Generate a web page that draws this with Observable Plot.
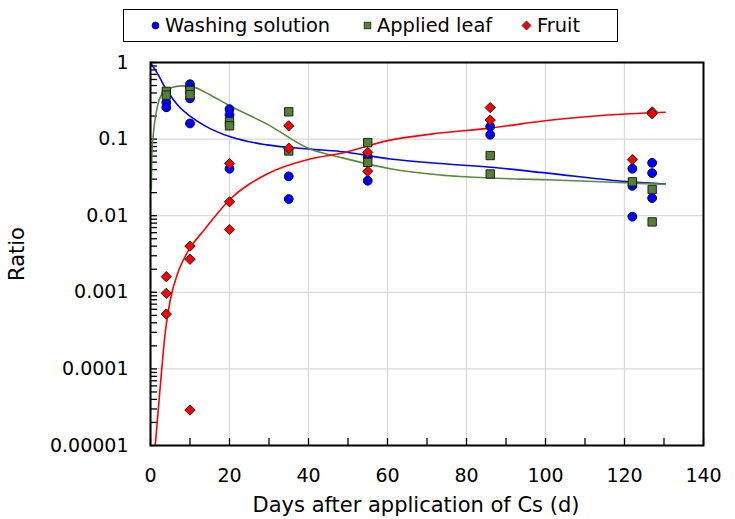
<!DOCTYPE html>
<html>
<head>
<meta charset="utf-8">
<script src="https://cdn.jsdelivr.net/npm/d3@7"></script>
<script src="https://cdn.jsdelivr.net/npm/@observablehq/plot@0.6"></script>
<style>
  html, body { margin: 0; padding: 0; background: #fff; }
  #wrap { position: relative; width: 735px; height: 519px; font-family: "DejaVu Sans", Verdana, sans-serif; }
  #legend { position: absolute; left: 123px; top: 9px; width: 493px; height: 31px; border: 1px solid #000; background: #fff; box-sizing: content-box; }
  .item { position: absolute; top: 0; height: 31px; display: flex; align-items: center; font-size: 19.4px; color: #000; white-space: nowrap; }
  .item svg { margin-right: 5px; }
</style>
</head>
<body>
<div id="wrap">
  <div id="chart"></div>
  <div id="legend"></div>
</div>
<script>
// ---- data ----
const seriesNames = ["Washing solution", "Applied leaf", "Fruit"];

const washDays  = [4, 4, 10, 10, 10, 10, 20, 20, 20, 35, 35, 55, 55, 86, 86, 122, 122, 122, 127, 127, 127];
const washRatio = [0.30, 0.26, 0.52, 0.47, 0.34, 0.16, 0.246, 0.207, 0.041, 0.0326, 0.0165, 0.058, 0.0286, 0.146, 0.114, 0.041, 0.0245, 0.0097, 0.049, 0.036, 0.017];

const leafDays  = [4, 4, 10, 10, 20, 20, 35, 35, 55, 55, 86, 86, 122, 127, 127];
const leafRatio = [0.42, 0.375, 0.43, 0.38, 0.168, 0.149, 0.227, 0.070, 0.090, 0.0496, 0.061, 0.035, 0.0277, 0.022, 0.0083];

const fruitDays  = [4, 4, 4, 10, 10, 10, 20, 20, 20, 35, 35, 55, 55, 86, 86, 122, 127, 127];
const fruitRatio = [0.0016, 0.00097, 0.00052, 0.004, 0.0027, 0.000029, 0.048, 0.0152, 0.0066, 0.149, 0.076, 0.067, 0.038, 0.258, 0.177, 0.054, 0.227, 0.214];

// fitted curves
const washFitDays  = [0, 0.8, 1.9, 3.7, 5.4, 7.1, 10, 13.8, 20.2, 29.5, 40.4, 48, 60.7, 73.3, 86, 100.4, 121.4, 130.3];
const washFitRatio = [1.0, 0.86, 0.70, 0.47, 0.35, 0.27, 0.20, 0.149, 0.107, 0.084, 0.074, 0.069, 0.055, 0.048, 0.043, 0.036, 0.0277, 0.0259];

const leafFitDays  = [0.2, 0.35, 0.76, 1.6, 2.9, 5.4, 7.9, 11.3, 13.8, 20.2, 29.5, 40.4, 48, 60.7, 73.3, 86, 100.4, 121.4, 130.3];
const leafFitRatio = [0.022, 0.061, 0.122, 0.246, 0.386, 0.47, 0.495, 0.47, 0.41, 0.27, 0.157, 0.074, 0.058, 0.041, 0.034, 0.031, 0.0295, 0.0267, 0.0257];

const fruitFitDays  = [1.2, 2.03, 2.9, 3.7, 5.0, 7.1, 9.6, 13.8, 20.2, 29.5, 40.4, 48, 60.7, 73.3, 86, 100.4, 121.4, 130.3];
const fruitFitRatio = [0.00001, 0.000032, 0.000107, 0.00029, 0.00079, 0.0019, 0.0035, 0.0067, 0.0165, 0.035, 0.055, 0.065, 0.097, 0.12, 0.139, 0.175, 0.214, 0.224];

const xTicks = [0, 20, 40, 60, 80, 100, 120, 140];
const xMinorTicks = [10, 30, 50, 70, 90, 110, 130];
const yTicks = [1, 0.1, 0.01, 0.001, 0.0001, 0.00001];
const yTickLabels = ["1", "0.1", "0.01", "0.001", "0.0001", "0.00001"];
const yMinorTicks = [];
for (const dec of [0.00001, 0.0001, 0.001, 0.01, 0.1]) for (const m of [2,3,4,5,6,7,8,9]) yMinorTicks.push(+(dec * m).toPrecision(3));

const xLabel = "Days after application of Cs (d)";
const yLabel = "Ratio";

// ---- build tables ----
const rows = (xs, ys) => xs.map((x, i) => ({x, y: ys[i]}));
const wash = rows(washDays, washRatio);
const leaf = rows(leafDays, leafRatio);
const fruit = rows(fruitDays, fruitRatio);
const washFit = rows(washFitDays, washFitRatio);
const leafFit = rows(leafFitDays, leafFitRatio);
const fruitFit = rows(fruitFitDays, fruitFitRatio);

const colors = {wash: "#0000ff", leaf: "#548235", fruit: "#ff0000"};
const lineColors = {wash: "#0000ff", leaf: "#5a8a3a", fruit: "#ff0000"};

const diamond = {
  draw(context, size) {
    const s = Math.sqrt(size / 2);
    context.moveTo(0, -s); context.lineTo(s, 0); context.lineTo(0, s); context.lineTo(-s, 0); context.closePath();
  }
};

const W = 735, H = 519, mL = 150, mR = 32, mT = 62, mB = 74;
const plotW = W - mL - mR, plotH = H - mT - mB;

const chart = Plot.plot({
  width: W, height: H,
  marginLeft: mL, marginRight: mR, marginTop: mT, marginBottom: mB,
  x: {domain: [0, 140]},
  y: {type: "log", domain: [0.00001, 1]},
  style: {fontFamily: "DejaVu Sans, Verdana, sans-serif", fontSize: "19px", color: "#000", background: "#fff"},
  marks: [
    Plot.gridX(xTicks, {stroke: "#d9d9d9", strokeOpacity: 1, strokeWidth: 1.3}),
    Plot.gridY(yTicks, {stroke: "#d9d9d9", strokeOpacity: 1, strokeWidth: 1.3}),
    Plot.tickY(yTicks.concat(yMinorTicks), {y: d => d, stroke: "#000", strokeWidth: 1.3, insetRight: plotW - 7}),
    Plot.tickX(xTicks.concat(xMinorTicks), {x: d => d, stroke: "#000", strokeWidth: 1.3, insetTop: plotH - 7}),
    Plot.axisX(xTicks, {tickSize: 0, tickPadding: 23, tickFormat: d => String(d), label: xLabel, labelAnchor: "center", labelOffset: 66, labelArrow: "none"}),
    Plot.axisY(yTicks, {tickSize: 0, tickPadding: 22, tickFormat: d => yTickLabels[yTicks.indexOf(d)], label: yLabel, labelAnchor: "center", labelOffset: 141, labelArrow: "none"}),
    Plot.line(washFit, {x: "x", y: "y", stroke: lineColors.wash, strokeWidth: 1.6, curve: "monotone-x", clip: true}),
    Plot.line(leafFit, {x: "x", y: "y", stroke: lineColors.leaf, strokeWidth: 1.6, curve: "monotone-x", clip: true}),
    Plot.line(fruitFit, {x: "x", y: "y", stroke: lineColors.fruit, strokeWidth: 1.6, curve: "monotone-x", clip: true}),
    Plot.dot(wash, {x: "x", y: "y", r: 4.4, fill: colors.wash, stroke: "#00005a", strokeWidth: 1}),
    Plot.dot(leaf, {x: "x", y: "y", r: 4.7, symbol: "square", fill: colors.leaf, stroke: "#1e1e1e", strokeWidth: 1}),
    Plot.dot(fruit, {x: "x", y: "y", r: 4.1, symbol: diamond, fill: colors.fruit, stroke: "#1e1e1e", strokeWidth: 1}),
    Plot.frame({stroke: "#000", strokeWidth: 2})
  ]
});
document.getElementById("chart").appendChild(chart);

// larger axis titles, as in the reference
const xl = chart.querySelector('[aria-label="x-axis label"]');
if (xl) {
  xl.style.fontSize = "21px";
  const t = xl.getAttribute("transform") || "";
  xl.setAttribute("transform", (t + " translate(-11,0)").trim());
}
const yl = chart.querySelector('[aria-label="y-axis label"]');
if (yl) { yl.style.fontSize = "21px"; }

// ---- legend ----
const legend = document.getElementById("legend");
const items = [
  {name: seriesNames[0], left: 27, svg: `<svg width="9" height="9" viewBox="-4.5 -4.5 9 9"><circle r="3.4" fill="${colors.wash}" stroke="#00005a" stroke-width="0.8"/></svg>`},
  {name: seriesNames[1], left: 239, svg: `<svg width="9" height="9" viewBox="-4.5 -4.5 9 9"><rect x="-3.3" y="-3.3" width="6.6" height="6.6" fill="${colors.leaf}" stroke="#1e1e1e" stroke-width="0.8"/></svg>`},
  {name: seriesNames[2], left: 397, svg: `<svg width="11" height="11" viewBox="-5.5 -5.5 11 11"><path d="M0,-4.5L4.5,0L0,4.5L-4.5,0Z" fill="${colors.fruit}" stroke="#1e1e1e" stroke-width="0.8"/></svg>`}
];
for (const it of items) {
  const span = document.createElement("div");
  span.className = "item";
  span.style.left = it.left + "px";
  span.innerHTML = it.svg + `<span>${it.name}</span>`;
  legend.appendChild(span);
}
</script>
</body>
</html>
